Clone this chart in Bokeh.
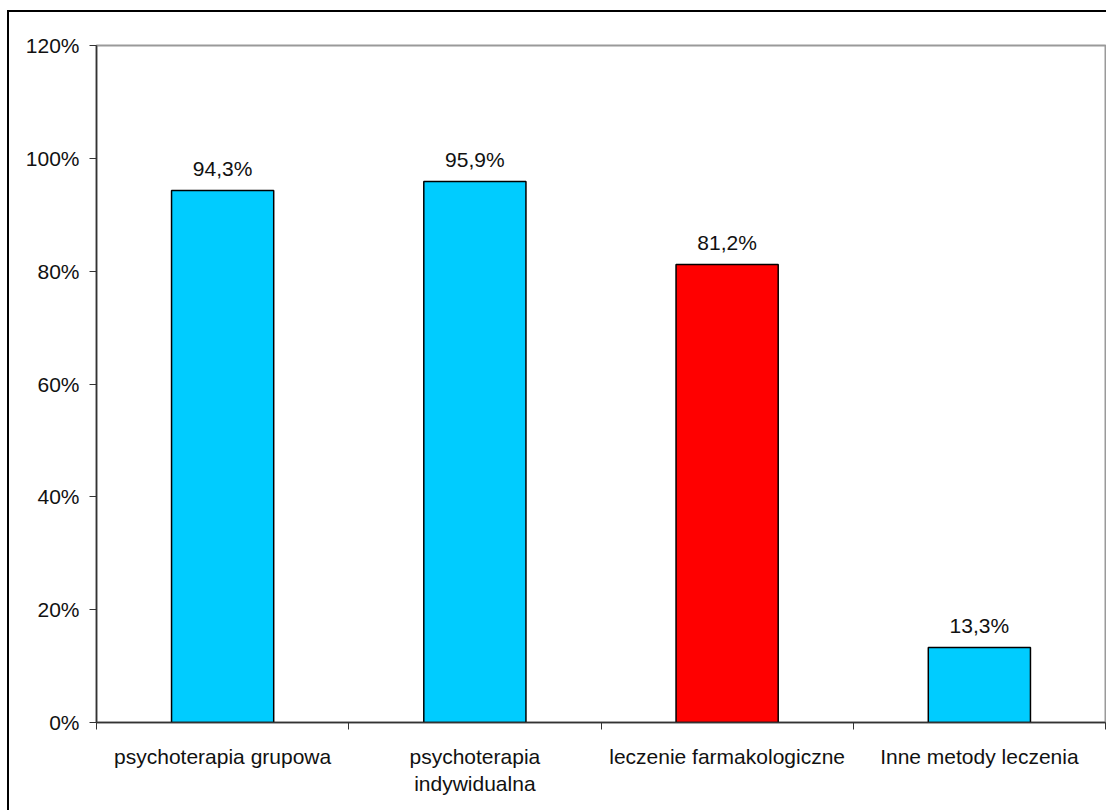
from bokeh.plotting import figure
from bokeh.models import ColumnDataSource, FixedTicker, NumeralTickFormatter, Range1d
from bokeh.core.properties import value
from bokeh.embed import file_html
from bokeh.resources import INLINE

# Treatment methods and the share of respondents using each
categories = ["psychoterapia grupowa", "psychoterapia\nindywidualna",
              "leczenie farmakologiczne", "Inne metody leczenia"]
shares = [94.3, 95.9, 81.2, 13.3]
bar_colors = ["#00CCFF", "#00CCFF", "#FF0000", "#00CCFF"]
y_ticks = [0, 0.2, 0.4, 0.6, 0.8, 1.0, 1.2]

FONT = "Liberation Sans"
FS = "21px"

centers = [i + 0.5 for i in range(len(categories))]
fractions = [s / 100 for s in shares]
labels = [f"{s:.1f}%".replace(".", ",") for s in shares]

src = ColumnDataSource(dict(x=centers, top=fractions, color=bar_colors, label=labels))

p = figure(width=1099, height=800, output_backend="svg", toolbar_location=None,
           x_range=Range1d(0, len(categories)), y_range=Range1d(0, 1.2),
           min_border_left=87, min_border_top=33, min_border_right=3, min_border_bottom=90)
p.styles = {"margin-left": "7px", "margin-top": "10px",
            "border-left": "2px solid black", "border-top": "2px solid black"}

p.vbar(x="x", top="top", width=0.405, bottom=0, fill_color="color",
       line_color="black", line_width=1.5, source=src)
p.text(x="x", y="top", text="label", source=src, text_align="center",
       text_baseline="bottom", y_offset=-10, text_font=value(FONT),
       text_font_size=FS, text_color="#111111")

p.grid.visible = False
p.outline_line_color = "#9a9a9a"
p.outline_line_width = 2
p.background_fill_color = "white"
p.border_fill_color = "white"

# y axis: percentages
ya = p.yaxis[0]
ya.ticker = FixedTicker(ticks=y_ticks)
ya.formatter = NumeralTickFormatter(format="0%")
ya.axis_line_color = "#333333"
ya.axis_line_width = 1.5
ya.major_tick_line_color = "#333333"
ya.major_tick_in = 0
ya.major_tick_out = 7
ya.minor_tick_line_color = None
ya.major_label_standoff = 10
ya.major_label_text_font = FONT
ya.major_label_text_font_size = FS
ya.major_label_text_color = "#111111"

# x axis: labels at category centres, tick marks at category boundaries
xa = p.xaxis[0]
xa.ticker = FixedTicker(ticks=centers, minor_ticks=list(range(len(categories) + 1)))
xa.major_label_overrides = {c: lab for c, lab in zip(centers, categories)}
xa.axis_line_color = "#333333"
xa.axis_line_width = 1.5
xa.major_tick_line_color = None
xa.major_tick_in = 0
xa.major_tick_out = 0
xa.minor_tick_line_color = "#333333"
xa.minor_tick_in = 0
xa.minor_tick_out = 7
xa.major_label_standoff = 15
xa.major_label_text_font = FONT
xa.major_label_text_font_size = FS
xa.major_label_text_color = "#111111"

open("out.html", "w").write(file_html(p, INLINE))
